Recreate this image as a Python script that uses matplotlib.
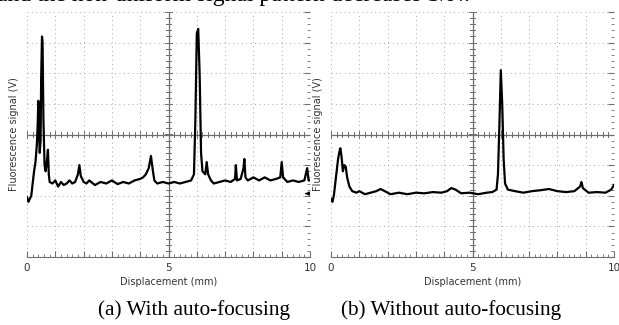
import numpy as np
import matplotlib.pyplot as plt
from matplotlib.ticker import MultipleLocator, FuncFormatter

# Oscilloscope traces (x in mm, y in screen divisions)
x_a = [0.00, 0.05, 0.10, 0.15, 0.20, 0.25, 0.30, 0.35, 0.38, 0.40, 0.42, 0.45, 0.48,
       0.50, 0.53, 0.55, 0.58, 0.62, 0.66, 0.70, 0.74, 0.77, 0.80, 0.90, 1.00, 1.10,
       1.20, 1.30, 1.40, 1.50, 1.60, 1.70, 1.80, 1.85, 1.90, 2.00, 2.10, 2.20, 2.40,
       2.60, 2.80, 3.00, 3.20, 3.40, 3.60, 3.80, 4.00, 4.10, 4.20, 4.30, 4.38, 4.45,
       4.50, 4.60, 4.80, 5.00, 5.20, 5.40, 5.60, 5.80, 5.90, 5.95, 6.00, 6.05, 6.10,
       6.15, 6.20, 6.30, 6.35, 6.40, 6.50, 6.60, 6.80, 7.00, 7.20, 7.35, 7.38, 7.42,
       7.55, 7.65, 7.68, 7.72, 7.80, 8.00, 8.20, 8.40, 8.60, 8.80, 8.95, 9.00, 9.05,
       9.20, 9.40, 9.60, 9.80, 9.90, 9.95, 10.00]
y_a = [-2.05, -2.20, -2.10, -2.00, -1.60, -1.20, -0.90, -0.30, 0.40, 1.10, 0.20, -0.60, -0.20,
       1.80, 3.20, 3.00, 0.50, -1.00, -1.20, -0.90, -0.50, -1.30, -1.55, -1.60, -1.50, -1.70,
       -1.55, -1.65, -1.60, -1.50, -1.60, -1.55, -1.30, -1.00, -1.35, -1.55, -1.60, -1.50, -1.65,
       -1.55, -1.60, -1.50, -1.62, -1.55, -1.60, -1.50, -1.45, -1.40, -1.30, -1.10, -0.70, -1.20,
       -1.50, -1.60, -1.55, -1.60, -1.55, -1.60, -1.55, -1.50, -1.30, 0.50, 3.30, 3.45, 2.00,
       -0.60, -1.20, -1.30, -0.90, -1.30, -1.50, -1.60, -1.55, -1.50, -1.55, -1.45, -1.00, -1.50,
       -1.45, -1.10, -0.80, -1.40, -1.50, -1.40, -1.50, -1.40, -1.50, -1.45, -1.40, -0.90, -1.40,
       -1.55, -1.50, -1.55, -1.50, -1.10, -1.50, -1.50]

x_b = [0.00, 0.05, 0.10, 0.15, 0.20, 0.25, 0.30, 0.33, 0.37, 0.42, 0.47, 0.52, 0.57,
       0.65, 0.75, 0.90, 1.00, 1.20, 1.40, 1.60, 1.75, 1.90, 2.10, 2.40, 2.70, 3.00,
       3.30, 3.60, 3.90, 4.10, 4.25, 4.40, 4.60, 4.90, 5.20, 5.50, 5.70, 5.85, 5.90,
       5.95, 6.00, 6.05, 6.10, 6.15, 6.25, 6.50, 6.80, 7.10, 7.40, 7.70, 8.00, 8.30,
       8.60, 8.80, 8.85, 8.90, 9.10, 9.40, 9.70, 9.90, 10.00]
y_b = [-2.10, -2.20, -2.00, -1.60, -1.20, -0.80, -0.55, -0.45, -0.70, -1.20, -1.00, -1.05, -1.40,
       -1.70, -1.85, -1.90, -1.85, -1.95, -1.90, -1.85, -1.78, -1.85, -1.95, -1.90, -1.95, -1.90,
       -1.92, -1.88, -1.90, -1.85, -1.75, -1.80, -1.92, -1.90, -1.95, -1.90, -1.88, -1.80, -1.30,
       0.30, 2.10, 1.00, -0.80, -1.60, -1.80, -1.85, -1.90, -1.85, -1.82, -1.78, -1.85, -1.88,
       -1.85, -1.70, -1.55, -1.75, -1.90, -1.88, -1.90, -1.80, -1.65]

x_ticks = [0, 5, 10]
captions = ['(a) With auto-focusing', '(b) Without auto-focusing']

grid_col = '#a8a8a8'
axis_col = '#6e6e6e'


def scope_axes(ax, xs, ys, arrow=False):
    ax.set_xlim(0, 10)
    ax.set_ylim(-4, 4)
    for s in ['top', 'left', 'right']:
        ax.spines[s].set_visible(False)
    ax.spines['bottom'].set_color(axis_col)
    ax.spines['bottom'].set_linewidth(0.8)

    # dotted graticule
    for gx in range(0, 11):
        ax.axvline(gx, color=grid_col, lw=0.7, ls=(0, (1, 3.5)), zorder=1)
    for gy in range(-4, 5):
        ax.axhline(gy, color=grid_col, lw=0.7, ls=(0, (1, 3.5)), zorder=1)

    # centre cross with small ticks
    ax.axhline(0, color=axis_col, lw=0.9, zorder=2)
    ax.axvline(5, color=axis_col, lw=0.9, zorder=2)
    for t in np.arange(0, 10.01, 0.2):
        h = 0.12 if abs(t - round(t)) < 1e-6 else 0.07
        ax.plot([t, t], [-h, h], color=axis_col, lw=0.7, zorder=2)
    for t in np.arange(-4, 4.01, 0.2):
        h = 0.14 if abs(t - round(t)) < 1e-6 else 0.08
        ax.plot([5 - h, 5 + h], [t, t], color=axis_col, lw=0.7, zorder=2)

    # bottom and right edge ticks pointing in
    ax.xaxis.set_major_locator(MultipleLocator(1))
    ax.xaxis.set_minor_locator(MultipleLocator(0.2))
    ax.xaxis.set_major_formatter(FuncFormatter(lambda v, p: f'{v:g}' if v in x_ticks else ''))
    ax.tick_params(axis='x', which='major', direction='in', length=4, color=axis_col,
                   labelsize=7.5, labelcolor='#333333', pad=4)
    ax.tick_params(axis='x', which='minor', direction='in', length=2.5, color=axis_col)
    ax.yaxis.tick_right()
    ax.yaxis.set_major_locator(MultipleLocator(1))
    ax.yaxis.set_minor_locator(MultipleLocator(0.2))
    ax.tick_params(axis='y', which='major', direction='in', length=4, color=axis_col,
                   labelright=False)
    ax.tick_params(axis='y', which='minor', direction='in', length=2.5, color=axis_col)

    ax.plot(xs, ys, color='black', lw=1.6, zorder=3)

    if arrow:
        ax.annotate('', xy=(9.72, -1.93), xytext=(9.97, -1.93),
                    arrowprops=dict(arrowstyle='-|>', color='black', lw=0.8,
                                    mutation_scale=6))

    ax.set_xlabel('Displacement (mm)', fontsize=7, color='#333333', labelpad=3)
    ax.yaxis.set_label_position('left')
    ax.set_ylabel('Fluorescence signal (V)', fontsize=7, color='#333333', labelpad=6)


fig = plt.figure(figsize=(6.19, 3.25), dpi=100)
ax1 = fig.add_axes([27 / 619, 68 / 325, 283 / 619, 245 / 325])
ax2 = fig.add_axes([331 / 619, 68 / 325, 283 / 619, 245 / 325])
scope_axes(ax1, x_a, y_a, arrow=True)
scope_axes(ax2, x_b, y_b)

# caption line cut off at the top of the page
fig.text(470 / 619, 1.0 - 1.5 / 325, 'and the non-uniform signal pattern decreases S/N.',
         ha='right', va='baseline', fontsize=17, family='Liberation Serif')

fig.text(194 / 619, 15 / 325, captions[0], ha='center', va='center',
         fontsize=15.3, family='Liberation Serif')
fig.text(451 / 619, 15 / 325, captions[1], ha='center', va='center',
         fontsize=15.3, family='Liberation Serif')

fig.savefig('out.png', dpi=100)
